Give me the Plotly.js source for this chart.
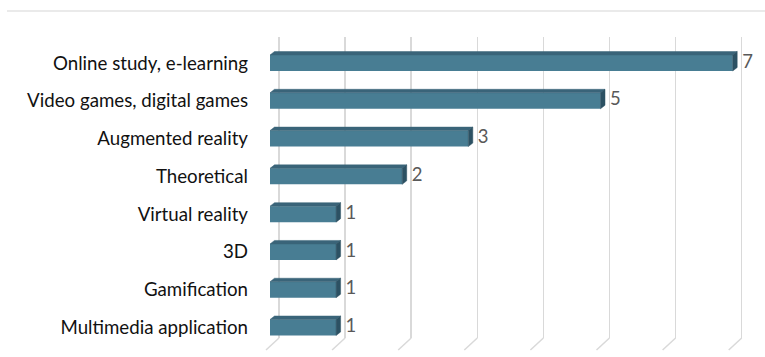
<!DOCTYPE html>
<html>
<head>
<meta charset="utf-8">
<script src="https://cdn.plot.ly/plotly-3.0.1.min.js"></script>
<style>html,body{margin:0;padding:0;background:#fff;}#chart{width:765px;height:357px;}</style>
</head>
<body>
<div id="chart"></div>
<script>
// ---- data ----
const categories = [
  "Online study, e-learning",
  "Video games, digital games",
  "Augmented reality",
  "Theoretical",
  "Virtual reality",
  "3D",
  "Gamification",
  "Multimedia application"
];
const values = [7, 5, 3, 2, 1, 1, 1, 1];
const gridTicks = [0, 1, 2, 3, 4, 5, 6, 7];

// ---- style / geometry ----
const frontColor = "#487D93";
const topColor = "#3A6479";
const sideColor = "#2C5163";
const pxPerX = 66.1, pxPerY = 37.79;
const dx = 4.5 / pxPerX, dy = 3.5 / pxPerY, hw = 0.2115;
const labelGap = 5 / pxPerX;
const idx = categories.map((_, i) => i);

const topX = [], topY = [], sideX = [], sideY = [];
values.forEach((v, i) => {
  const t = i - hw, b = i + hw;
  topX.push(0, v, v + dx, dx, 0, null);
  topY.push(t, t, t - dy, t - dy, t, null);
  sideX.push(v, v + dx, v + dx, v, v, null);
  sideY.push(t, t - dy, b - dy, b, t, null);
});

const traces = [
  {type: "scatter", x: [gridTicks[0]], y: [0], xaxis: "x2", yaxis: "y", mode: "markers",
   marker: {opacity: 0}, hoverinfo: "skip"},
  {type: "bar", orientation: "h", x: values, y: idx, width: 2 * hw, base: 0,
   marker: {color: frontColor, line: {width: 0}}, hoverinfo: "skip"},
  {type: "scatter", x: topX, y: topY, mode: "lines", fill: "toself", fillcolor: topColor,
   line: {color: topColor, width: 0.5}, hoverinfo: "skip"},
  {type: "scatter", x: sideX, y: sideY, mode: "lines", fill: "toself", fillcolor: sideColor,
   line: {color: sideColor, width: 0.5}, hoverinfo: "skip"},
  {type: "scatter", x: values.map(v => v + dx + labelGap), y: idx, mode: "text",
   text: values.map(String), textposition: "middle right", cliponaxis: false,
   textfont: {family: "Lato, 'Open Sans', sans-serif", size: 18.5, color: "#595959"}, hoverinfo: "skip"}
];

const L = 255, R = 6, T = 37, B = 19, W = 765, H = 357;
const plotW = W - L - R, plotH = H - T - B;
const x0 = -(270 - L) / pxPerX;
const x20 = -(279 - L) / pxPerX;

const shapes = gridTicks.map(k => ({
  type: "line", xref: "x2", yref: "paper", layer: "below",
  x0: k, y0: 0, x1: k - 13 / pxPerX, y1: -12 / plotH,
  line: {color: "#d9d9d9", width: 1.5}
}));
shapes.push({type: "line", xref: "paper", yref: "paper", layer: "below",
  x0: (7 - L) / plotW, x1: (W - L) / plotW, y0: (H - B - 11) / plotH, y1: (H - B - 11) / plotH,
  line: {color: "#e3e3e3", width: 1.5}});

const layout = {
  width: W, height: H,
  margin: {l: L, r: R, t: T, b: B, pad: 0},
  paper_bgcolor: "#fff", plot_bgcolor: "rgba(0,0,0,0)",
  showlegend: false, hovermode: false,
  xaxis: {range: [x0, x0 + plotW / pxPerX], showgrid: false, zeroline: false,
          showticklabels: false, showline: false, ticks: ""},
  xaxis2: {overlaying: "x", range: [x20, x20 + plotW / pxPerX], tickvals: gridTicks,
           showgrid: true, gridcolor: "#d9d9d9", gridwidth: 1.5, zeroline: false,
           showticklabels: false, showline: false, ticks: ""},
  yaxis: {range: [7 + 10.5 / pxPerY, -26 / pxPerY], tickvals: idx, ticktext: categories,
          showgrid: false, zeroline: false, showline: false, ticks: "",
          ticklabelstandoff: 6,
          tickfont: {family: "Lato, 'Open Sans', sans-serif", size: 18.7, color: "#111"}},
  shapes: shapes
};

Plotly.newPlot("chart", traces, layout, {displayModeBar: false, staticPlot: true});
</script>
</body>
</html>
